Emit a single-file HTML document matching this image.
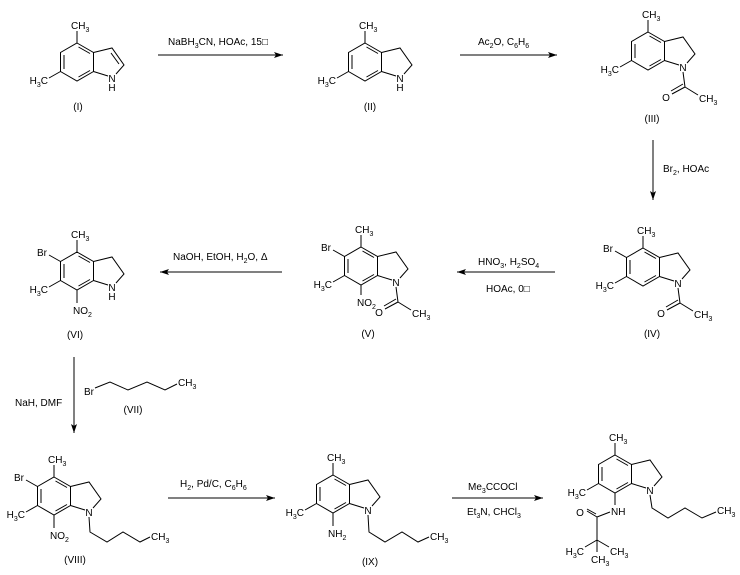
<!DOCTYPE html>
<html><head><meta charset="utf-8"><style>
html,body{margin:0;padding:0;background:#fff}
svg{display:block}
text{font-family:"Liberation Sans",Arial,sans-serif;font-size:10px;fill:#000}
.s{font-size:7px}
</style></head><body>
<svg width="740" height="575" viewBox="0 0 740 575" xmlns="http://www.w3.org/2000/svg">
<defs>
<g id="c" stroke="#000" stroke-width="1" fill="none">
<path d="M0,-19 L16.5,-9.5 L16.5,9.5 L0,19 L-16.5,9.5 L-16.5,-9.5 Z"/>
<path d="M-13,-7 L-13,7 M1.5,-15 L13,-8.5 M13,8.5 L1.5,15"/>
<path d="M16.5,-9.5 L35,-14 L47,3 L39,12 M16.5,9.5 L31,14"/>
<path d="M0,-19 L0,-31"/>
</g>
<g id="ar"><polygon points="0,0 -9,-3 -7,0 -9,3" fill="#000"/></g>
</defs>
<g stroke="#000" stroke-width="1" fill="none">
<!-- arrows -->
<path d="M158,55 H283 M460,55 H557 M653,140 V200 M555,272 H457 M282,272 H160 M74,357 V433 M168,498 H275 M452,498 H543"/>
</g>
<use href="#ar" x="283" y="55"/>
<use href="#ar" x="557" y="55"/>
<use href="#ar" transform="translate(653,200) rotate(90)"/>
<use href="#ar" transform="translate(457,272) rotate(180)"/>
<use href="#ar" transform="translate(160,272) rotate(180)"/>
<use href="#ar" transform="translate(74,433) rotate(90)"/>
<use href="#ar" x="275" y="498"/>
<use href="#ar" x="543" y="498"/>

<!-- reagents -->
<text x="168" y="45">NaBH<tspan class="s" dy="3">3</tspan><tspan dy="-3">CN, HOAc, 15□</tspan></text>
<text x="478" y="45">Ac<tspan class="s" dy="3">2</tspan><tspan dy="-3">O, C</tspan><tspan class="s" dy="3">6</tspan><tspan dy="-3">H</tspan><tspan class="s" dy="3">6</tspan></text>
<text x="663" y="172">Br<tspan class="s" dy="3">2</tspan><tspan dy="-3">, HOAc</tspan></text>
<text x="478" y="265">HNO<tspan class="s" dy="3">3</tspan><tspan dy="-3">, H</tspan><tspan class="s" dy="3">2</tspan><tspan dy="-3">SO</tspan><tspan class="s" dy="3">4</tspan></text>
<text x="486" y="292">HOAc, 0□</text>
<text x="173" y="260">NaOH, EtOH, H<tspan class="s" dy="3">2</tspan><tspan dy="-3">O, Δ</tspan></text>
<text x="15" y="406">NaH, DMF</text>
<text x="180" y="487">H<tspan class="s" dy="3">2</tspan><tspan dy="-3">, Pd/C, C</tspan><tspan class="s" dy="3">6</tspan><tspan dy="-3">H</tspan><tspan class="s" dy="3">6</tspan></text>
<text x="468" y="490">Me<tspan class="s" dy="3">3</tspan><tspan dy="-3">CCOCl</tspan></text>
<text x="467" y="515">Et<tspan class="s" dy="3">3</tspan><tspan dy="-3">N, CHCl</tspan><tspan class="s" dy="3">3</tspan></text>

<!-- labels -->
<g text-anchor="middle">
<text x="78" y="110">(I)</text>
<text x="370" y="110">(II)</text>
<text x="652" y="122">(III)</text>
<text x="652" y="337">(IV)</text>
<text x="368" y="337">(V)</text>
<text x="75" y="338">(VI)</text>
<text x="133" y="413">(VII)</text>
<text x="75" y="563">(VIII)</text>
<text x="370" y="565">(IX)</text>
</g>

<!-- I -->
<g transform="translate(77,62)">
<use href="#c"/>
<path d="M-16.5,9.5 L-28,16 M34,-9 L42,2" stroke="#000" fill="none"/>
<text x="-6" y="-33">CH<tspan class="s" dy="3">3</tspan></text>
<text x="-29" y="22" text-anchor="end">H<tspan class="s" dy="3">3</tspan><tspan dy="-3">C</tspan></text>
<text x="35" y="20" text-anchor="middle">N</text><text x="35" y="29" text-anchor="middle">H</text>
</g>
<!-- II -->
<g transform="translate(365,62)">
<use href="#c"/>
<path d="M-16.5,9.5 L-28,16" stroke="#000" fill="none"/>
<text x="-6" y="-33">CH<tspan class="s" dy="3">3</tspan></text>
<text x="-29" y="22" text-anchor="end">H<tspan class="s" dy="3">3</tspan><tspan dy="-3">C</tspan></text>
<text x="35" y="20" text-anchor="middle">N</text><text x="35" y="29" text-anchor="middle">H</text>
</g>
<!-- III -->
<g transform="translate(648,51)">
<use href="#c"/>
<path d="M-16.5,9.5 L-28,16 M35,21 L37,36 L50,44 M37,36 L24,43 M35,33 L23,40" stroke="#000" fill="none"/>
<text x="-6" y="-33">CH<tspan class="s" dy="3">3</tspan></text>
<text x="-29" y="22" text-anchor="end">H<tspan class="s" dy="3">3</tspan><tspan dy="-3">C</tspan></text>
<text x="35" y="20" text-anchor="middle">N</text>
<text x="18" y="50" text-anchor="middle">O</text>
<text x="51" y="51">CH<tspan class="s" dy="3">3</tspan></text>
</g>
<!-- IV -->
<g transform="translate(643,267)">
<use href="#c"/>
<path d="M-16.5,9.5 L-28,16 M-16.5,-9.5 L-28,-16 M35,21 L37,36 L50,44 M37,36 L24,43 M35,33 L23,40" stroke="#000" fill="none"/>
<text x="-6" y="-33">CH<tspan class="s" dy="3">3</tspan></text>
<text x="-29" y="22" text-anchor="end">H<tspan class="s" dy="3">3</tspan><tspan dy="-3">C</tspan></text>
<text x="-30" y="-15" text-anchor="end">Br</text>
<text x="35" y="20" text-anchor="middle">N</text>
<text x="18" y="50" text-anchor="middle">O</text>
<text x="51" y="51">CH<tspan class="s" dy="3">3</tspan></text>
</g>
<!-- V -->
<g transform="translate(361,266)">
<use href="#c"/>
<path d="M-16.5,9.5 L-28,16 M-16.5,-9.5 L-28,-16 M0,19 L0,29 M35,21 L37,36 L50,44 M37,36 L24,43 M35,33 L23,40" stroke="#000" fill="none"/>
<text x="-6" y="-33">CH<tspan class="s" dy="3">3</tspan></text>
<text x="-29" y="22" text-anchor="end">H<tspan class="s" dy="3">3</tspan><tspan dy="-3">C</tspan></text>
<text x="-30" y="-15" text-anchor="end">Br</text>
<text x="-4" y="40">NO<tspan class="s" dy="3">2</tspan></text>
<text x="35" y="20" text-anchor="middle">N</text>
<text x="18" y="50" text-anchor="middle">O</text>
<text x="51" y="51">CH<tspan class="s" dy="3">3</tspan></text>
</g>
<!-- VI -->
<g transform="translate(77,271)">
<use href="#c"/>
<path d="M-16.5,9.5 L-28,16 M-16.5,-9.5 L-28,-16 M0,19 L0,32" stroke="#000" fill="none"/>
<text x="-6" y="-33">CH<tspan class="s" dy="3">3</tspan></text>
<text x="-29" y="22" text-anchor="end">H<tspan class="s" dy="3">3</tspan><tspan dy="-3">C</tspan></text>
<text x="-30" y="-15" text-anchor="end">Br</text>
<text x="-4" y="43">NO<tspan class="s" dy="3">2</tspan></text>
<text x="35" y="20" text-anchor="middle">N</text><text x="35" y="29" text-anchor="middle">H</text>
</g>
<!-- VII -->
<path d="M95,388 L110,382 L128,390 L147,382 L165,390 L177,384" stroke="#000" fill="none"/>
<text x="84" y="395">Br</text>
<text x="178" y="386">CH<tspan class="s" dy="3">3</tspan></text>
<!-- VIII -->
<g transform="translate(54,496)">
<use href="#c"/>
<path d="M-16.5,9.5 L-28,16 M-16.5,-9.5 L-28,-16 M0,19 L0,32 M35,21 L36,36 L53,46 L69,36 L86,46 L96,41" stroke="#000" fill="none"/>
<text x="-6" y="-33">CH<tspan class="s" dy="3">3</tspan></text>
<text x="-29" y="22" text-anchor="end">H<tspan class="s" dy="3">3</tspan><tspan dy="-3">C</tspan></text>
<text x="-30" y="-15" text-anchor="end">Br</text>
<text x="-4" y="43">NO<tspan class="s" dy="3">2</tspan></text>
<text x="35" y="20" text-anchor="middle">N</text>
<text x="97" y="44">CH<tspan class="s" dy="3">3</tspan></text>
</g>
<!-- IX -->
<g transform="translate(333,494)">
<use href="#c"/>
<path d="M-16.5,9.5 L-28,16 M0,19 L0,32 M35,21 L36,38 L52,48 L69,38 L85,48 L96,43" stroke="#000" fill="none"/>
<text x="-6" y="-33">CH<tspan class="s" dy="3">3</tspan></text>
<text x="-29" y="22" text-anchor="end">H<tspan class="s" dy="3">3</tspan><tspan dy="-3">C</tspan></text>
<text x="-5" y="43">NH<tspan class="s" dy="3">2</tspan></text>
<text x="35" y="20" text-anchor="middle">N</text>
<text x="97" y="46">CH<tspan class="s" dy="3">3</tspan></text>
</g>
<!-- product -->
<g transform="translate(615,474)">
<use href="#c"/>
<path d="M-16.5,9.5 L-28,16 M0,19 L0,31 M-5,38 L-18,43 L-18,66 M-18,43 L-28,37 M-19,40 L-28,35 M-18,66 L-30,73 M-18,66 L-6,73 M-18,66 L-18,78 M35,21 L37,34 L53,44 L70,34 L87,44 L101,38" stroke="#000" fill="none"/>
<text x="-6" y="-33">CH<tspan class="s" dy="3">3</tspan></text>
<text x="-29" y="22" text-anchor="end">H<tspan class="s" dy="3">3</tspan><tspan dy="-3">C</tspan></text>
<text x="-4" y="41">NH</text>
<text x="-35" y="42" text-anchor="middle">O</text>
<text x="-31" y="81" text-anchor="end">H<tspan class="s" dy="3">3</tspan><tspan dy="-3">C</tspan></text>
<text x="-5" y="81">CH<tspan class="s" dy="3">3</tspan></text>
<text x="-24" y="89">CH<tspan class="s" dy="3">3</tspan></text>
<text x="35" y="20" text-anchor="middle">N</text>
<text x="102" y="40">CH<tspan class="s" dy="3">3</tspan></text>
</g>
</svg>
</body></html>
